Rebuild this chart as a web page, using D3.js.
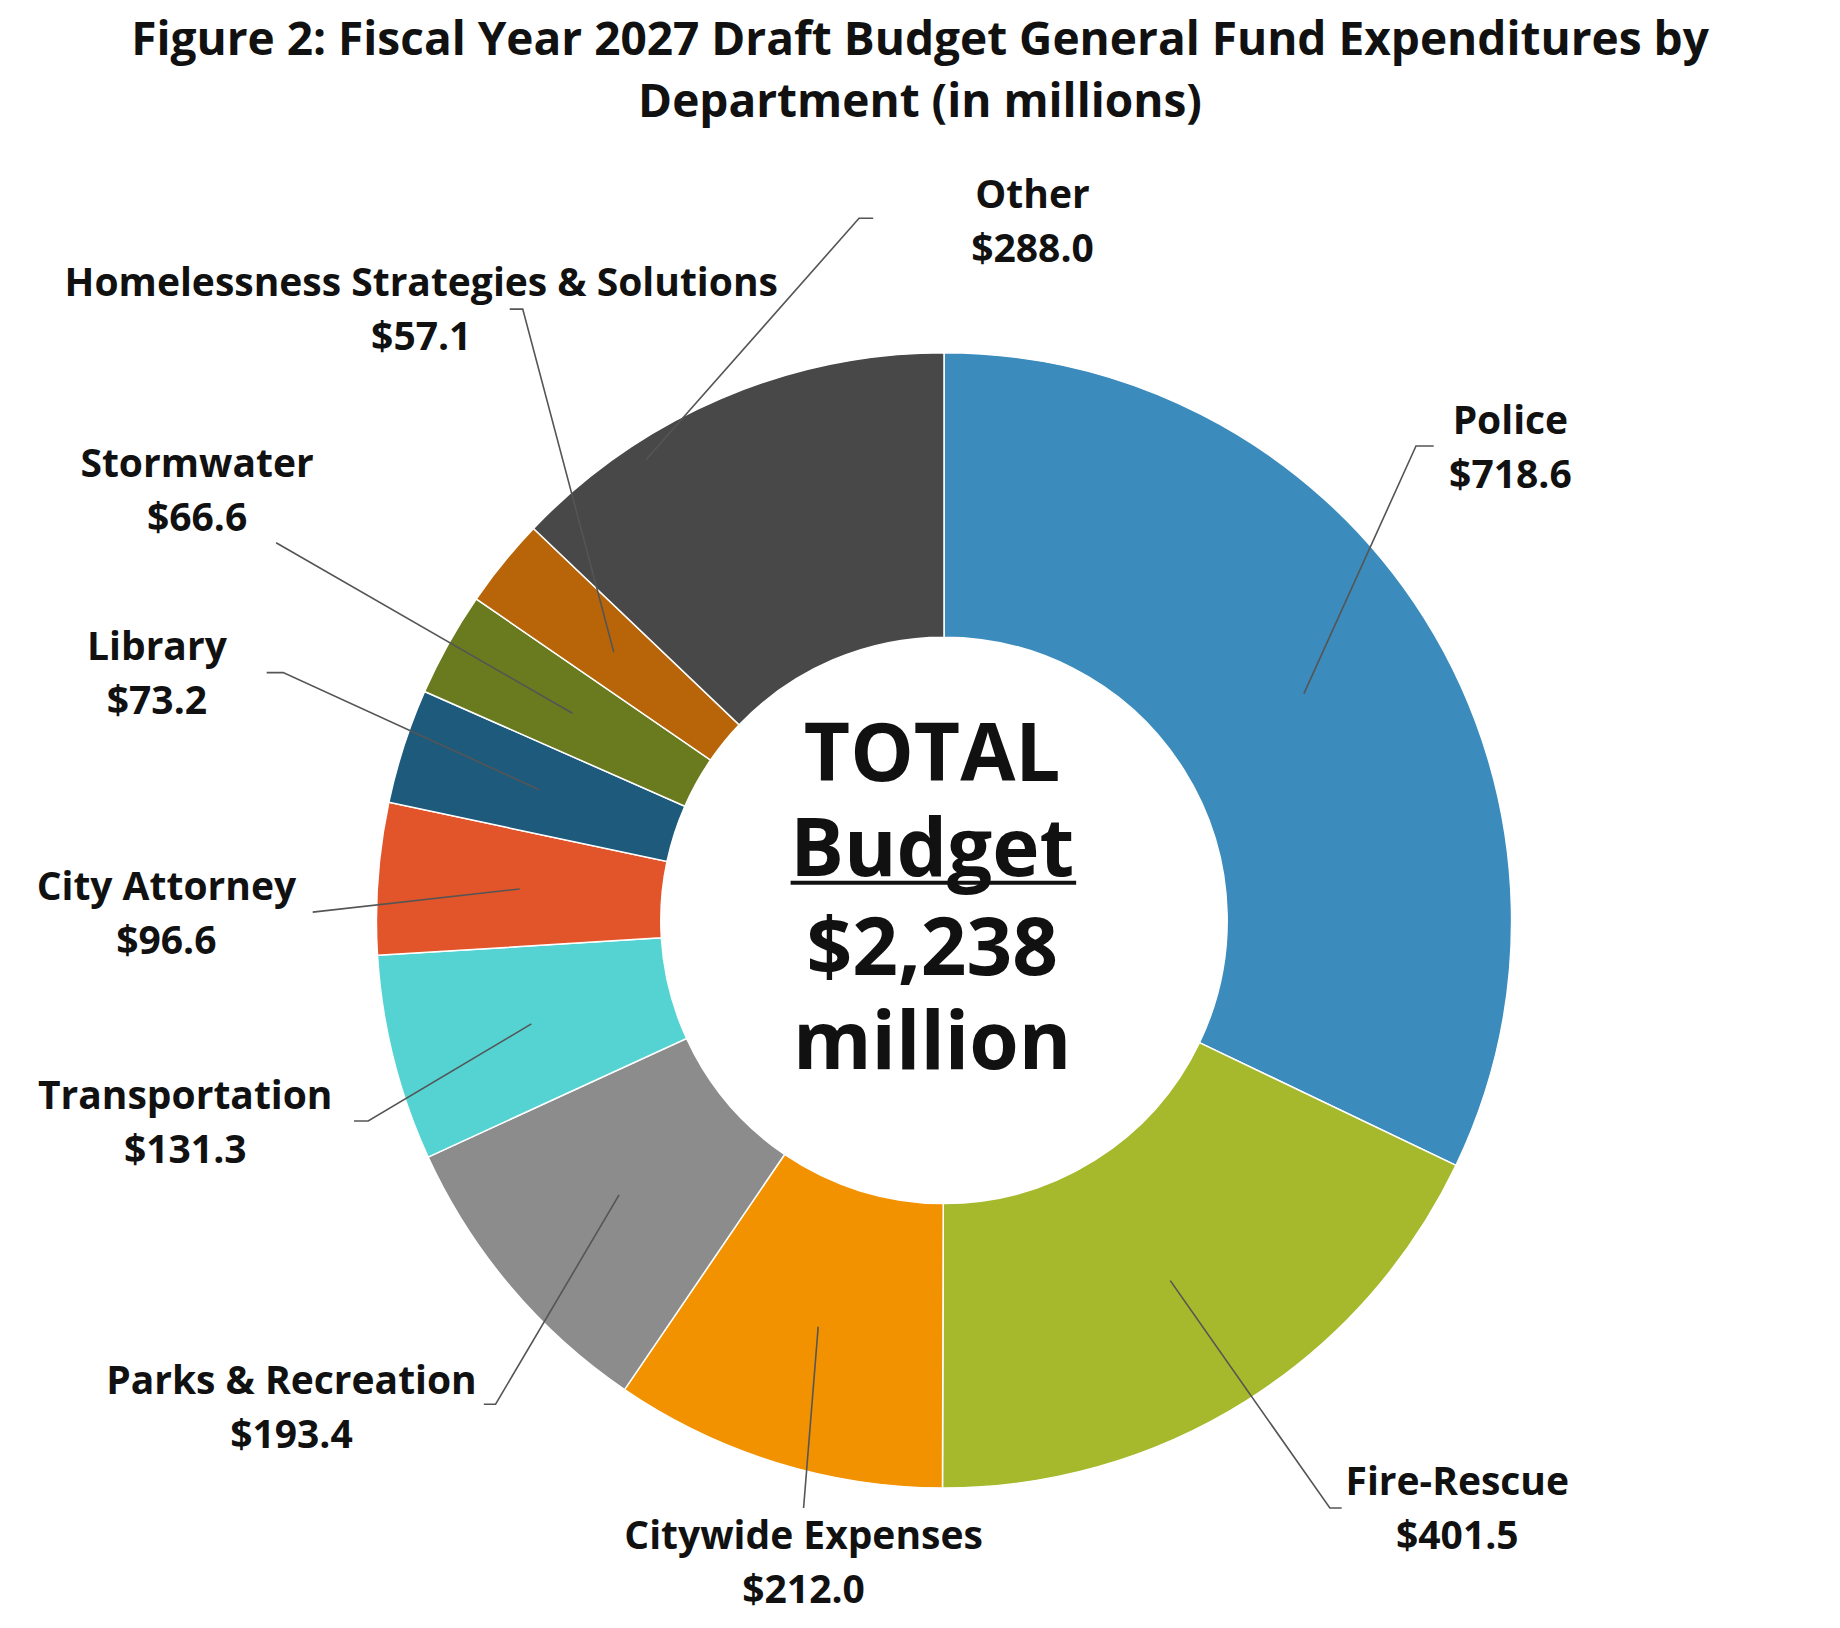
<!DOCTYPE html>
<html><head><meta charset="utf-8">
<script src="https://cdn.jsdelivr.net/npm/d3@7"></script>
<style>body{margin:0;background:#fff}text{font-family:"Open Sans",sans-serif;font-weight:bold;fill:#111}</style>
</head><body><svg id="c" width="1840" height="1628"></svg>
<script>
const departments = ["Police","Fire-Rescue","Citywide Expenses","Parks & Recreation","Transportation","City Attorney","Library","Stormwater","Homelessness Strategies & Solutions","Other"];
const amounts = [718.6,401.5,212.0,193.4,131.3,96.6,73.2,66.6,57.1,288.0];
const colors = ["#3b8bbd","#a6b82b","#f39200","#8c8c8c","#55d3d3","#e2542a","#1d5a7c","#6a7a1e","#b8650a","#484848"];
const totalLabel = "$2,238";

// label anchor (center x, name baseline y) and leader-line elbow, in reference-image units
const k = 1.18;
const labelPos = [[1280,368],[1235,1267],[681,1313],[247,1181],[157,940],[141,763],[133,559],[167,404],[357,251],[875,176]];
const elbows = [[1215,378,1200],[1137,1278,1127],[null],[410,1190,420],[300,950,312],[265,773,265],[226,570,240],[234,460,234],[432,262,443],[740,185,728]];
const leaderR = [null,null,null,null,null,null,null,null,null,465]; // outer radius override for leader end

const svg = d3.select("#c");
svg.append("text").attr("x",920).attr("y",55).attr("text-anchor","middle").attr("font-size",46)
  .text("Figure 2: Fiscal Year 2027 Draft Budget General Fund Expenditures by");
svg.append("text").attr("x",920).attr("y",117).attr("text-anchor","middle").attr("font-size",46)
  .text("Department (in millions)");

const cx = 800*k, cy = 780*k, rOut = 481*k, rIn = 240*k;
const g = svg.append("g").attr("transform",`translate(${cx},${cy})`);
const pie = d3.pie().sort(null).value(d => d)(amounts);
const arc = d3.arc().innerRadius(rIn).outerRadius(rOut);
g.selectAll("path").data(pie).join("path").attr("d",arc)
  .attr("fill",(d,i)=>colors[i]).attr("stroke","#fff").attr("stroke-width",1.5);

// leader lines
pie.forEach((d,i) => {
  let c = arc.centroid(d);
  if (leaderR[i]) {
    const a = (d.startAngle + d.endAngle) / 2 - 0.17, r = leaderR[i]*k;
    c = [Math.sin(a)*r, -Math.cos(a)*r];
  }
  const p = [c[0]+cx, c[1]+cy];
  const e = elbows[i];
  let pts;
  if (e[0] === null) pts = [[labelPos[i][0]*k, (labelPos[i][1]-35)*k], p];
  else pts = [[e[0]*k,e[1]*k],[e[2]*k,e[1]*k], p];
  svg.append("path").attr("d",d3.line()(pts)).attr("fill","none").attr("stroke","#555").attr("stroke-width",1.6);
});

// labels
departments.forEach((name,i) => {
  const [x,y] = labelPos[i];
  const t = svg.append("text").attr("x",x*k).attr("y",y*k).attr("text-anchor","middle").attr("font-size",39);
  t.append("tspan").attr("x",x*k).text(name);
  t.append("tspan").attr("x",x*k).attr("dy",54).text("$"+amounts[i].toFixed(1));
});

// center text
const ct = [["TOTAL",662],["Budget",742],[totalLabel,826],["million",906]];
ct.forEach(([s,y]) => svg.append("text").attr("x",790*k).attr("y",y*k).attr("text-anchor","middle")
  .attr("font-size",80).text(s));
svg.append("line").attr("x1",670*k).attr("x2",912*k).attr("y1",748*k).attr("y2",748*k).attr("stroke","#111").attr("stroke-width",4);
</script></body></html>
